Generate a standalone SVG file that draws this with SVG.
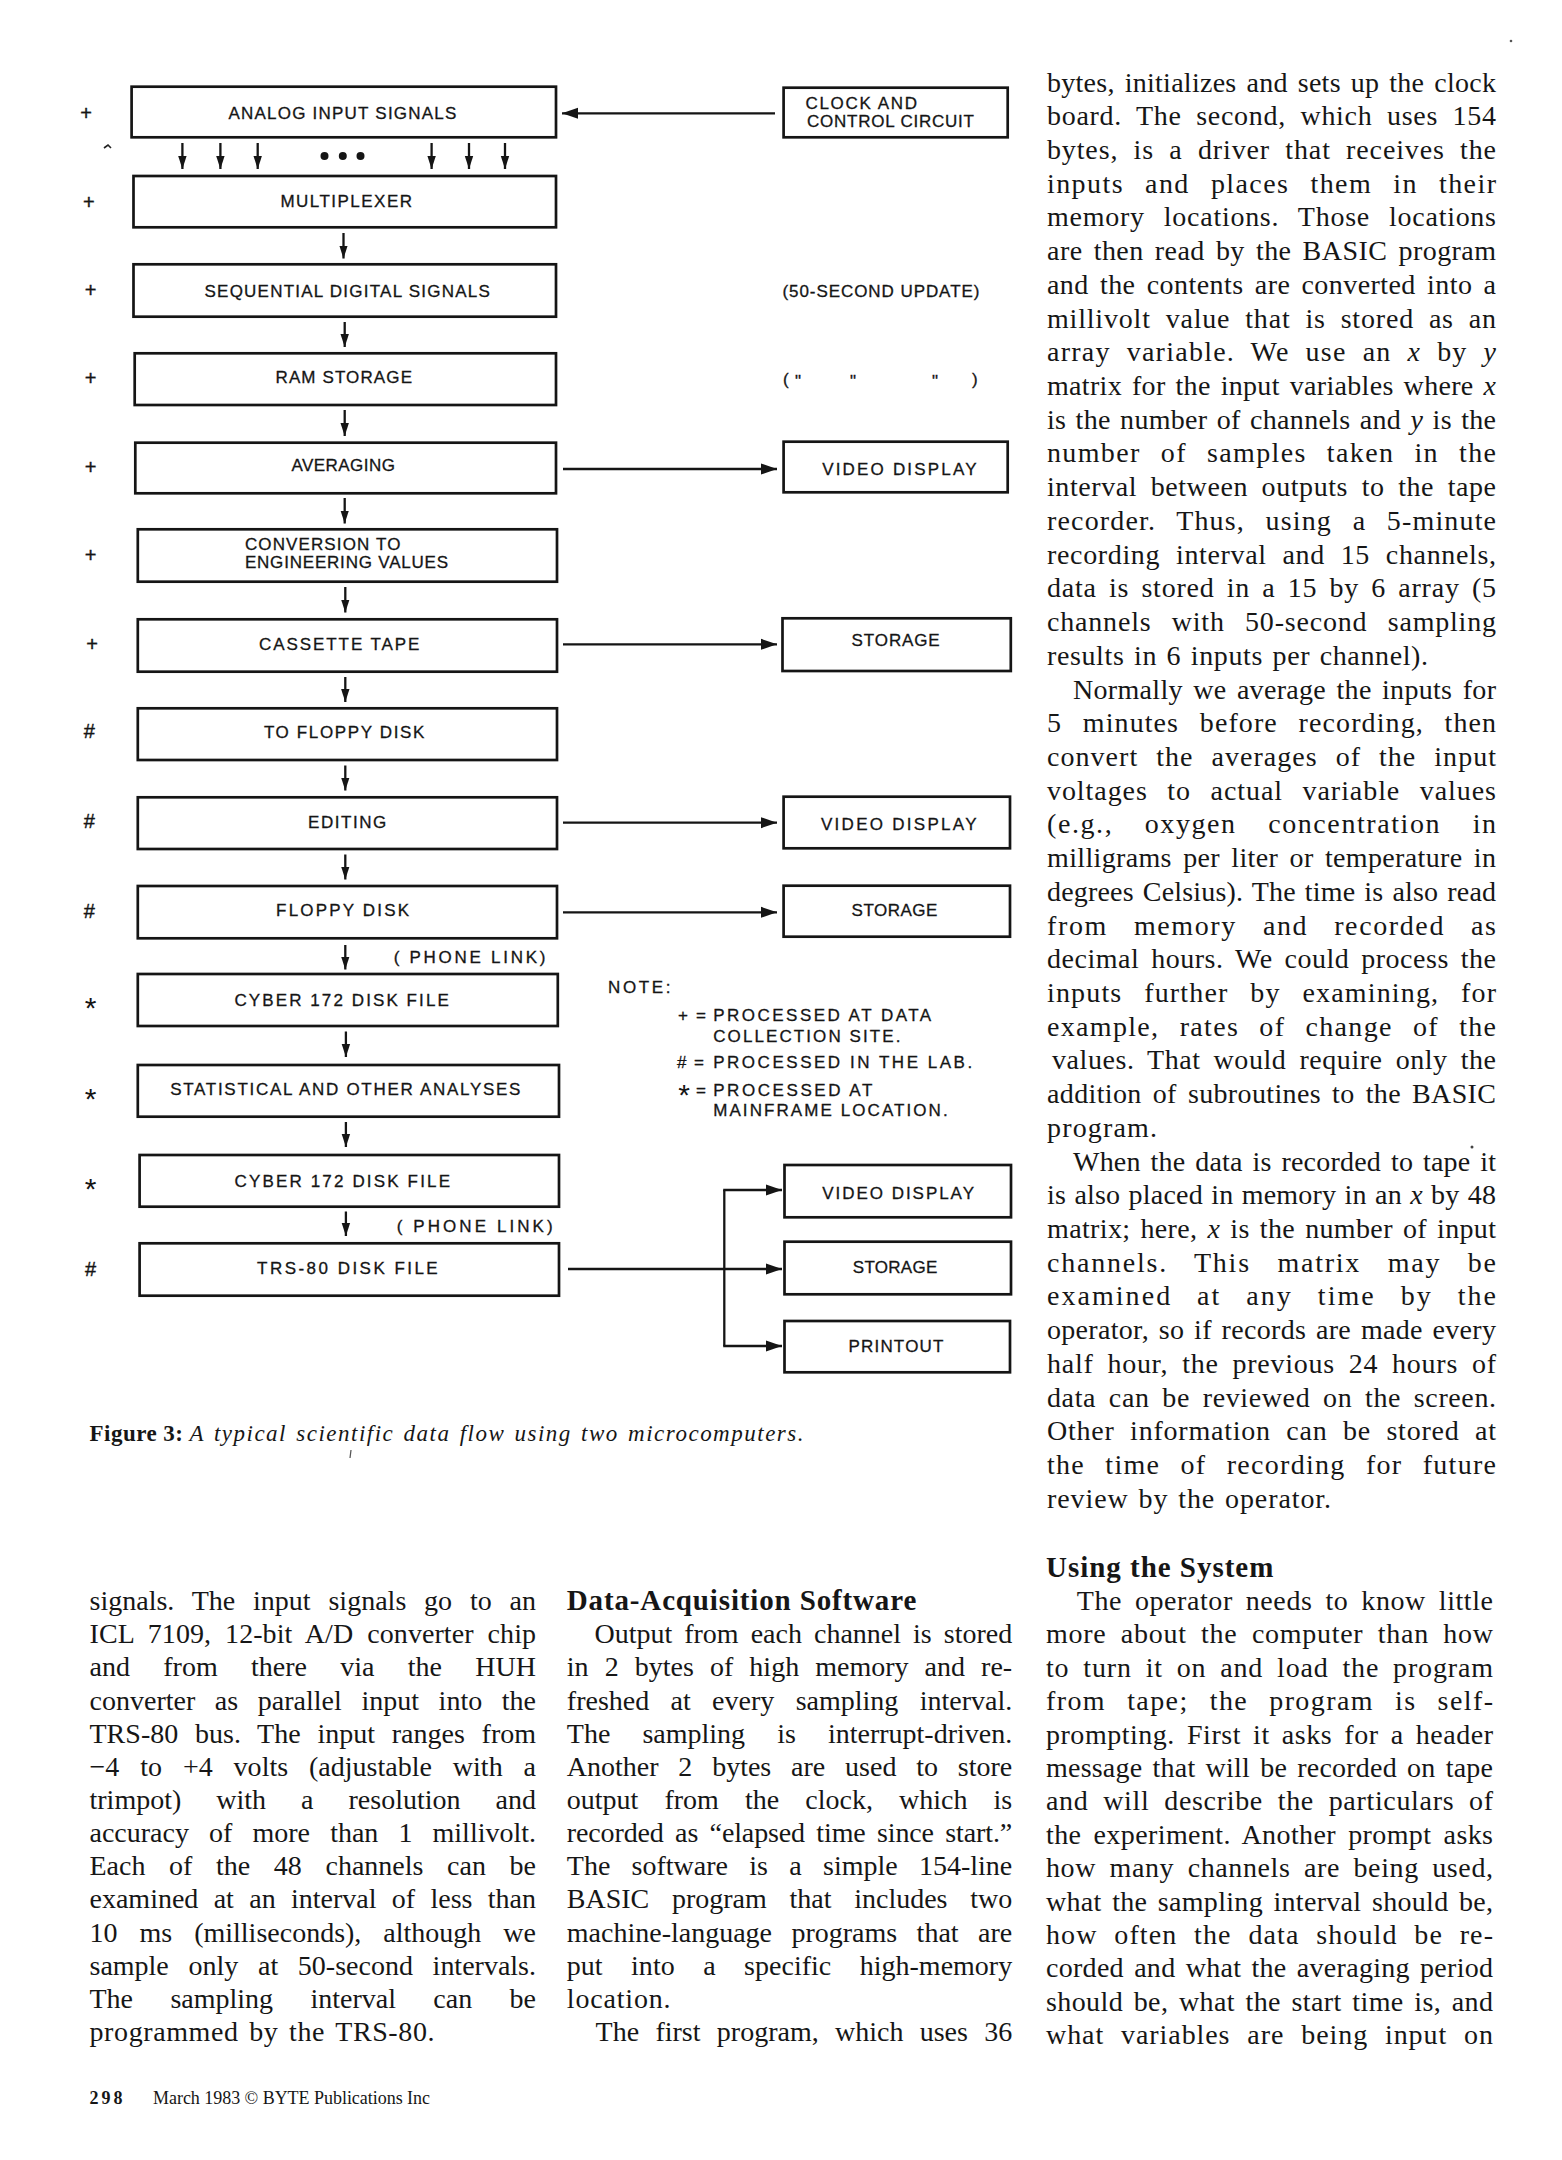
<svg xmlns="http://www.w3.org/2000/svg" width="1562" height="2160" viewBox="0 0 1562 2160">
<style>
.bg{fill:#ffffff}
.box{fill:none;stroke:#151515;stroke-width:2.7}
.conn{fill:none;stroke:#151515;stroke-width:2.3}
.lbl{font-family:"Liberation Sans",Arial,sans-serif;font-size:17px;fill:#151515;stroke:#151515;stroke-width:0.3}
.mk{font-family:"Liberation Sans",Arial,sans-serif;font-size:20px;fill:#151515;text-anchor:middle;stroke:#151515;stroke-width:0.4}
.ast{font-family:"Liberation Sans",Arial,sans-serif;font-size:30px;fill:#151515;text-anchor:middle}
.body{font-family:"Liberation Serif","Times New Roman",serif;font-size:28px;fill:#161616}
.cond{font-family:"Liberation Serif","Times New Roman",serif;font-size:28px;fill:#161616}
.head{font-family:"Liberation Serif","Times New Roman",serif;font-size:29px;font-weight:bold;fill:#161616}
.cap{font-family:"Liberation Serif","Times New Roman",serif;font-size:23px;fill:#161616}
.foot{font-family:"Liberation Serif","Times New Roman",serif;font-size:18px;fill:#161616}
.it{font-style:italic}
</style>
<defs>
<marker id="ah" markerUnits="userSpaceOnUse" markerWidth="17" markerHeight="12" refX="16" refY="6" orient="auto"><path d="M0,0.5 L16,6 L0,11.5 z" fill="#151515"/></marker>
<marker id="ahs" markerUnits="userSpaceOnUse" markerWidth="14" markerHeight="10" refX="13" refY="5" orient="auto"><path d="M0,0.8 L13,5 L0,9.2 z" fill="#151515"/></marker>
</defs>
<rect class="bg" x="0" y="0" width="1562" height="2160"/>

<!-- connectors -->
<g id="connectors">
<line class="conn" x1="775" y1="113.3" x2="562" y2="113.3" stroke-width="3.2" marker-end="url(#ah)"/>
<line class="conn" x1="182.4" y1="143" x2="182.4" y2="169" marker-end="url(#ahs)"/>
<line class="conn" x1="220.4" y1="143" x2="220.4" y2="169" marker-end="url(#ahs)"/>
<line class="conn" x1="257.7" y1="143" x2="257.7" y2="169" marker-end="url(#ahs)"/>
<line class="conn" x1="431.6" y1="143" x2="431.6" y2="169" marker-end="url(#ahs)"/>
<line class="conn" x1="469" y1="143" x2="469" y2="169" marker-end="url(#ahs)"/>
<line class="conn" x1="505" y1="143" x2="505" y2="169" marker-end="url(#ahs)"/>
<circle cx="324.5" cy="156" r="4" fill="#151515"/>
<circle cx="342.8" cy="156" r="4" fill="#151515"/>
<circle cx="360.5" cy="156" r="4" fill="#151515"/>
<line class="conn" x1="343.5" y1="233" x2="343.5" y2="258.5" marker-end="url(#ahs)"/>
<line class="conn" x1="344.7" y1="322" x2="344.7" y2="347" marker-end="url(#ahs)"/>
<line class="conn" x1="344.7" y1="410" x2="344.7" y2="436" marker-end="url(#ahs)"/>
<line class="conn" x1="344.7" y1="498" x2="344.7" y2="523.5" marker-end="url(#ahs)"/>
<line class="conn" x1="345.3" y1="587" x2="345.3" y2="612.5" marker-end="url(#ahs)"/>
<line class="conn" x1="345.3" y1="677" x2="345.3" y2="702" marker-end="url(#ahs)"/>
<line class="conn" x1="345.3" y1="765.5" x2="345.3" y2="790.5" marker-end="url(#ahs)"/>
<line class="conn" x1="345.3" y1="854.5" x2="345.3" y2="879.5" marker-end="url(#ahs)"/>
<line class="conn" x1="345.3" y1="945" x2="345.3" y2="969.5" marker-end="url(#ahs)"/>
<line class="conn" x1="345.9" y1="1031.5" x2="345.9" y2="1057" marker-end="url(#ahs)"/>
<line class="conn" x1="345.9" y1="1122" x2="345.9" y2="1147" marker-end="url(#ahs)"/>
<line class="conn" x1="345.9" y1="1211.5" x2="345.9" y2="1236" marker-end="url(#ahs)"/>
<line class="conn" x1="563" y1="469" x2="777" y2="469" marker-end="url(#ah)"/>
<line class="conn" x1="563" y1="644.3" x2="777" y2="644.3" marker-end="url(#ah)"/>
<line class="conn" x1="563" y1="822.7" x2="777" y2="822.7" marker-end="url(#ah)"/>
<line class="conn" x1="563" y1="912.3" x2="777" y2="912.3" marker-end="url(#ah)"/>
<line class="conn" x1="568" y1="1269" x2="782" y2="1269" marker-end="url(#ah)"/>
<line class="conn" x1="724.3" y1="1190" x2="724.3" y2="1346"/>
<line class="conn" x1="723.2" y1="1190" x2="782" y2="1190" marker-end="url(#ah)"/>
<line class="conn" x1="723.2" y1="1346" x2="782" y2="1346" marker-end="url(#ah)"/>
</g>

<!-- left chain nodes -->
<g id="n-analog"><rect class="box" x="131.6" y="86.7" width="424.4" height="50.6"/><text class="lbl" x="228.4" y="119.3" textLength="228">ANALOG INPUT SIGNALS</text></g>
<g id="n-mux"><rect class="box" x="133.5" y="176" width="422.5" height="51.3"/><text class="lbl" x="280.4" y="207" textLength="131.6">MULTIPLEXER</text></g>
<g id="n-seq"><rect class="box" x="133.5" y="264.3" width="422.5" height="52.4"/><text class="lbl" x="204.5" y="296.7" textLength="285.3">SEQUENTIAL DIGITAL SIGNALS</text></g>
<g id="n-ram"><rect class="box" x="134.7" y="353.3" width="421.3" height="51.7"/><text class="lbl" x="275.5" y="383.3" textLength="136.5">RAM STORAGE</text></g>
<g id="n-avg"><rect class="box" x="135.3" y="442.7" width="420.7" height="50.6"/><text class="lbl" x="291.4" y="470.7" textLength="103.5">AVERAGING</text></g>
<g id="n-conv"><rect class="box" x="137.8" y="529.3" width="419.2" height="52.4"/><text class="lbl" x="244.9" y="550" textLength="155.5">CONVERSION TO</text><text class="lbl" x="244.9" y="568.3" textLength="203.2">ENGINEERING VALUES</text></g>
<g id="n-cass"><rect class="box" x="137.8" y="619.3" width="419.2" height="52.4"/><text class="lbl" x="259" y="650" textLength="160.4">CASSETTE TAPE</text></g>
<g id="n-tofloppy"><rect class="box" x="137.8" y="708.3" width="419.2" height="51.7"/><text class="lbl" x="263.9" y="738.3" textLength="160.4">TO FLOPPY DISK</text></g>
<g id="n-edit"><rect class="box" x="137.8" y="797.3" width="419.2" height="51.7"/><text class="lbl" x="308" y="828.3" textLength="78.3">EDITING</text></g>
<g id="n-floppy"><rect class="box" x="137.8" y="886" width="419.2" height="52.3"/><text class="lbl" x="276.1" y="916" textLength="132.9">FLOPPY DISK</text></g>
<g id="n-cyber1"><rect class="box" x="137.8" y="974" width="420" height="52"/><text class="lbl" x="234.5" y="1005.7" textLength="214.3">CYBER 172 DISK FILE</text></g>
<g id="n-stat"><rect class="box" x="137.8" y="1065" width="421.2" height="51.7"/><text class="lbl" x="170.2" y="1095" textLength="350.2">STATISTICAL AND OTHER ANALYSES</text></g>
<g id="n-cyber2"><rect class="box" x="139.6" y="1155" width="419.4" height="51.7"/><text class="lbl" x="234.5" y="1186.7" textLength="215.5">CYBER 172 DISK FILE</text></g>
<g id="n-trs"><rect class="box" x="139.6" y="1243.3" width="419.4" height="52.4"/><text class="lbl" x="257.1" y="1274" textLength="180.6">TRS-80 DISK FILE</text></g>

<!-- right nodes -->
<g id="n-clock"><rect class="box" x="783.6" y="87.7" width="224.1" height="49.6"/><text class="lbl" x="805.6" y="109.3" textLength="111.4">CLOCK AND</text><text class="lbl" x="807" y="127.3" textLength="167">CONTROL CIRCUIT</text></g>
<g id="n-video1"><rect class="box" x="783.6" y="441.7" width="224.1" height="50.6"/><text class="lbl" x="822.2" y="475" textLength="154.3">VIDEO DISPLAY</text></g>
<g id="n-storage1"><rect class="box" x="782.5" y="618.3" width="228.3" height="52.7"/><text class="lbl" x="851.6" y="645.7" textLength="88.1">STORAGE</text></g>
<g id="n-video2"><rect class="box" x="783.6" y="796.7" width="226.4" height="51.6"/><text class="lbl" x="821" y="830" textLength="155.5">VIDEO DISPLAY</text></g>
<g id="n-storage2"><rect class="box" x="783.6" y="885.7" width="226.4" height="51"/><text class="lbl" x="851.6" y="916" textLength="85.7">STORAGE</text></g>
<g id="n-video3"><rect class="box" x="784.5" y="1165" width="226.5" height="52.3"/><text class="lbl" x="822.2" y="1199.3" textLength="151.8">VIDEO DISPLAY</text></g>
<g id="n-storage3"><rect class="box" x="784.5" y="1241.7" width="226.5" height="52.6"/><text class="lbl" x="852.8" y="1273.3" textLength="84.5">STORAGE</text></g>
<g id="n-printout"><rect class="box" x="784.5" y="1321" width="225.5" height="51.3"/><text class="lbl" x="848.5" y="1351.7" textLength="94.9">PRINTOUT</text></g>

<!-- side annotations -->
<g id="annotations">
<text class="lbl" x="782.4" y="296.5" textLength="197">(50-SECOND UPDATE)</text>
<text class="lbl" x="783" y="385" font-size="20">(</text>
<text class="lbl" x="795" y="387" font-size="20">"</text>
<text class="lbl" x="850" y="387" font-size="20">"</text>
<text class="lbl" x="932" y="387" font-size="20">"</text>
<text class="lbl" x="972" y="385" font-size="20">)</text>
<text class="lbl" x="393.7" y="963.3" textLength="151.8">( PHONE LINK)</text>
<text class="lbl" x="396.7" y="1231.7" textLength="156">( PHONE LINK)</text>
<text class="lbl" x="608" y="992.7" textLength="62.4">NOTE:</text>
<text class="lbl" x="678" y="1021">+</text>
<text class="lbl" x="696" y="1021">=</text>
<text class="lbl" x="713.2" y="1021" textLength="218">PROCESSED AT DATA</text>
<text class="lbl" x="713.2" y="1041.7" textLength="187.3">COLLECTION SITE.</text>
<text class="lbl" x="677" y="1068.3" textLength="27">#=</text>
<text class="lbl" x="713.2" y="1068.3" textLength="259">PROCESSED IN THE LAB.</text>
<text class="ast" x="684" y="1105" font-size="26">*</text>
<text class="lbl" x="696" y="1096">=</text>
<text class="lbl" x="713.2" y="1096" textLength="159.2">PROCESSED AT</text>
<text class="lbl" x="713.2" y="1115.7" textLength="234.5">MAINFRAME LOCATION.</text>
<text class="mk" x="86" y="120">+</text>
<text class="mk" x="88.8" y="208.5">+</text>
<text class="mk" x="90.6" y="297">+</text>
<text class="mk" x="90.6" y="385">+</text>
<text class="mk" x="90.6" y="473.5">+</text>
<text class="mk" x="90.6" y="562">+</text>
<text class="mk" x="92" y="650.5">+</text>
<text class="mk" x="89.4" y="738">#</text>
<text class="mk" x="89.4" y="828">#</text>
<text class="mk" x="89.4" y="917.5">#</text>
<text class="ast" x="90.6" y="1018">*</text>
<text class="ast" x="90.6" y="1108.5">*</text>
<text class="ast" x="90.6" y="1198.5">*</text>
<text class="mk" x="90.6" y="1275.5">#</text>
<path d="M104,148 L108,145 L111,148" fill="none" stroke="#222" stroke-width="1.6"/>
</g>

<!-- caption -->
<g id="caption">
<text class="cap" x="89.5" y="1441" font-weight="bold" textLength="93.5">Figure 3:</text>
<text class="cap it" x="189.5" y="1441" word-spacing="2" textLength="614">A typical scientific data flow using two microcomputers.</text>
</g>

<!-- right column top -->
<g id="col-right-top">
<text class="body" x="1047" y="91.5" word-spacing="2.7" textLength="449">bytes, initializes and sets up the clock</text>
<text class="body" x="1047" y="125.2" word-spacing="6.8" textLength="449">board. The second, which uses 154</text>
<text class="body" x="1047" y="158.9" word-spacing="7.5" textLength="449">bytes, is a driver that receives the</text>
<text class="body" x="1047" y="192.7" word-spacing="12.7" textLength="449">inputs and places them in their</text>
<text class="body" x="1047" y="226.4" word-spacing="11.4" textLength="449">memory locations. Those locations</text>
<text class="body" x="1047" y="260.1" word-spacing="3.7" textLength="449">are then read by the BASIC program</text>
<text class="body" x="1047" y="293.8" word-spacing="3.8" textLength="449">and the contents are converted into a</text>
<text class="body" x="1047" y="327.5" word-spacing="7.1" textLength="449">millivolt value that is stored as an</text>
<text class="body" x="1047" y="361.3" word-spacing="7.7" textLength="449">array variable. We use an <tspan class="it">x</tspan> by <tspan class="it">y</tspan></text>
<text class="body" x="1047" y="395" word-spacing="2.7" textLength="449">matrix for the input variables where <tspan class="it">x</tspan></text>
<text class="body" x="1047" y="428.7" word-spacing="2" textLength="449">is the number of channels and <tspan class="it">y</tspan> is the</text>
<text class="body" x="1047" y="462.4" word-spacing="11.8" textLength="449">number of samples taken in the</text>
<text class="body" x="1047" y="496.1" word-spacing="6" textLength="449">interval between outputs to the tape</text>
<text class="body" x="1047" y="529.9" word-spacing="12.5" textLength="449">recorder. Thus, using a 5-minute</text>
<text class="body" x="1047" y="563.6" word-spacing="8.2" textLength="449">recording interval and 15 channels,</text>
<text class="body" x="1047" y="597.3" word-spacing="4.5" textLength="449">data is stored in a 15 by 6 array (5</text>
<text class="body" x="1047" y="631" word-spacing="12.5" textLength="449">channels with 50-second sampling</text>
<text class="body" x="1047" y="664.7" word-spacing="2" textLength="381">results in 6 inputs per channel).</text>
<text class="body" x="1073" y="698.5" word-spacing="3.1" textLength="423">Normally we average the inputs for</text>
<text class="body" x="1047" y="732.2" word-spacing="12.6" textLength="449">5 minutes before recording, then</text>
<text class="body" x="1047" y="765.9" word-spacing="9.9" textLength="449">convert the averages of the input</text>
<text class="body" x="1047" y="799.6" word-spacing="11.6" textLength="449">voltages to actual variable values</text>
<text class="body" x="1047" y="833.3" word-spacing="22.9" textLength="449">(e.g., oxygen concentration in</text>
<text class="body" x="1047" y="867.1" word-spacing="4" textLength="449">milligrams per liter or temperature in</text>
<text class="body" x="1047" y="900.8" word-spacing="1.8" textLength="449">degrees Celsius). The time is also read</text>
<text class="body" x="1047" y="934.5" word-spacing="17.4" textLength="449">from memory and recorded as</text>
<text class="body" x="1047" y="968.2" word-spacing="4.4" textLength="449">decimal hours. We could process the</text>
<text class="body" x="1047" y="1001.9" word-spacing="13.6" textLength="449">inputs further by examining, for</text>
<text class="body" x="1047" y="1035.7" word-spacing="11.9" textLength="449">example, rates of change of the</text>
<text class="body" x="1052" y="1069.4" word-spacing="5.5" textLength="444">values. That would require only the</text>
<text class="body" x="1047" y="1103.1" word-spacing="3.7" textLength="449">addition of subroutines to the BASIC</text>
<text class="body" x="1047" y="1136.8" textLength="110">program.</text>
<text class="body" x="1073" y="1170.5" word-spacing="2.6" textLength="423">When the data is recorded to tape it</text>
<text class="body" x="1047" y="1204.3" word-spacing="1.1" textLength="449">is also placed in memory in an <tspan class="it">x</tspan> by 48</text>
<text class="body" x="1047" y="1238" word-spacing="2.7" textLength="449">matrix; here, <tspan class="it">x</tspan> is the number of input</text>
<text class="body" x="1047" y="1271.7" word-spacing="17.8" textLength="449">channels. This matrix may be</text>
<text class="body" x="1047" y="1305.4" word-spacing="15.9" textLength="449">examined at any time by the</text>
<text class="body" x="1047" y="1339.1" word-spacing="2.5" textLength="449">operator, so if records are made every</text>
<text class="body" x="1047" y="1372.9" word-spacing="6.1" textLength="449">half hour, the previous 24 hours of</text>
<text class="body" x="1047" y="1406.6" word-spacing="5.2" textLength="449">data can be reviewed on the screen.</text>
<text class="body" x="1047" y="1440.3" word-spacing="7.7" textLength="449">Other information can be stored at</text>
<text class="body" x="1047" y="1474" word-spacing="12" textLength="449">the time of recording for future</text>
<text class="body" x="1047" y="1507.7" word-spacing="2" textLength="284">review by the operator.</text>
</g>

<!-- left column bottom -->
<g id="col-left">
<text class="cond" x="89.5" y="1610" word-spacing="10.8" textLength="446.5">signals. The input signals go to an</text>
<text class="cond" x="89.5" y="1643.2" word-spacing="6.9" textLength="446.5">ICL 7109, 12-bit A/D converter chip</text>
<text class="cond" x="89.5" y="1676.3" word-spacing="26.3" textLength="446.5">and from there via the HUH</text>
<text class="cond" x="89.5" y="1709.5" word-spacing="12.6" textLength="446.5">converter as parallel input into the</text>
<text class="cond" x="89.5" y="1742.6" word-spacing="9.7" textLength="446.5">TRS-80 bus. The input ranges from</text>
<text class="cond" x="89.5" y="1775.8" word-spacing="13.9" textLength="446.5">−4 to +4 volts (adjustable with a</text>
<text class="cond" x="89.5" y="1808.9" word-spacing="28" textLength="446.5">trimpot) with a resolution and</text>
<text class="cond" x="89.5" y="1842.1" word-spacing="13.1" textLength="446.5">accuracy of more than 1 millivolt.</text>
<text class="cond" x="89.5" y="1875.2" word-spacing="16.6" textLength="446.5">Each of the 48 channels can be</text>
<text class="cond" x="89.5" y="1908.4" word-spacing="8.3" textLength="446.5">examined at an interval of less than</text>
<text class="cond" x="89.5" y="1941.5" word-spacing="15" textLength="446.5">10 ms (milliseconds), although we</text>
<text class="cond" x="89.5" y="1974.7" word-spacing="12.7" textLength="446.5">sample only at 50-second intervals.</text>
<text class="cond" x="89.5" y="2007.8" word-spacing="30.4" textLength="446.5">The sampling interval can be</text>
<text class="cond" x="89.5" y="2041" word-spacing="3" textLength="345">programmed by the TRS-80.</text>
</g>

<!-- middle column bottom -->
<g id="col-middle">
<text class="head" x="566.8" y="1610" textLength="349.5">Data-Acquisition Software</text>
<text class="cond" x="594.4" y="1643.2" word-spacing="5" textLength="417.8">Output from each channel is stored</text>
<text class="cond" x="566.8" y="1676.3" word-spacing="9.1" textLength="445.4">in 2 bytes of high memory and re-</text>
<text class="cond" x="566.8" y="1709.5" word-spacing="14.3" textLength="445.4">freshed at every sampling interval.</text>
<text class="cond" x="566.8" y="1742.6" word-spacing="25.1" textLength="445.4">The sampling is interrupt-driven.</text>
<text class="cond" x="566.8" y="1775.8" word-spacing="12.8" textLength="445.4">Another 2 bytes are used to store</text>
<text class="cond" x="566.8" y="1808.9" word-spacing="19.1" textLength="445.4">output from the clock, which is</text>
<text class="cond" x="566.8" y="1842.1" word-spacing="4.5" textLength="445.4">recorded as “elapsed time since start.”</text>
<text class="cond" x="566.8" y="1875.2" word-spacing="14.3" textLength="445.4">The software is a simple 154-line</text>
<text class="cond" x="566.8" y="1908.4" word-spacing="15.7" textLength="445.4">BASIC program that includes two</text>
<text class="cond" x="566.8" y="1941.5" word-spacing="12.4" textLength="445.4">machine-language programs that are</text>
<text class="cond" x="566.8" y="1974.7" word-spacing="21.5" textLength="445.4">put into a specific high-memory</text>
<text class="cond" x="566.8" y="2007.8" textLength="103.7">location.</text>
<text class="cond" x="595.6" y="2041" word-spacing="9.3" textLength="416.6">The first program, which uses 36</text>
</g>

<!-- right column bottom -->
<g id="col-right-bottom">
<text class="head" x="1046" y="1577" textLength="227.3">Using the System</text>
<text class="body" x="1076.7" y="1610" word-spacing="5.4" textLength="416.3">The operator needs to know little</text>
<text class="body" x="1046" y="1643.4" word-spacing="6.7" textLength="447">more about the computer than how</text>
<text class="body" x="1046" y="1676.8" word-spacing="6" textLength="447">to turn it on and load the program</text>
<text class="body" x="1046" y="1710.2" word-spacing="12.7" textLength="447">from tape; the program is self-</text>
<text class="body" x="1046" y="1743.6" word-spacing="4.6" textLength="447">prompting. First it asks for a header</text>
<text class="body" x="1046" y="1777" word-spacing="3" textLength="447">message that will be recorded on tape</text>
<text class="body" x="1046" y="1810.4" word-spacing="7.1" textLength="447">and will describe the particulars of</text>
<text class="body" x="1046" y="1843.8" word-spacing="4.7" textLength="447">the experiment. Another prompt asks</text>
<text class="body" x="1046" y="1877.2" word-spacing="5.9" textLength="447">how many channels are being used,</text>
<text class="body" x="1046" y="1910.6" word-spacing="3.2" textLength="447">what the sampling interval should be,</text>
<text class="body" x="1046" y="1944" word-spacing="8.6" textLength="447">how often the data should be re-</text>
<text class="body" x="1046" y="1977.4" word-spacing="3" textLength="447">corded and what the averaging period</text>
<text class="body" x="1046" y="2010.8" word-spacing="3.2" textLength="447">should be, what the start time is, and</text>
<text class="body" x="1046" y="2044.2" word-spacing="9" textLength="447">what variables are being input on</text>
</g>

<!-- footer -->
<g id="footer">
<text class="foot" x="89.5" y="2104" font-size="23" font-weight="bold" textLength="33">298</text>
<text class="foot" x="153" y="2104" font-size="19" textLength="277">March 1983 © BYTE Publications Inc</text>
</g>

<!-- specks -->
<circle cx="1511" cy="41" r="1.3" fill="#555"/>
<circle cx="1472" cy="1147" r="1.5" fill="#444"/>
<path d="M351,1450 L350,1458" stroke="#555" stroke-width="1.3"/>
</svg>
